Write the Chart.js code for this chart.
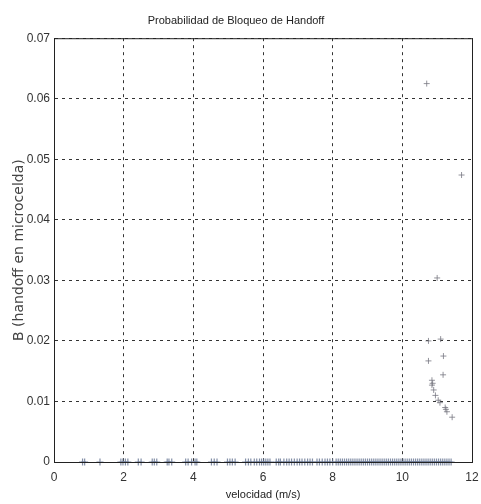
<!DOCTYPE html>
<html>
<head>
<meta charset="utf-8">
<script src="https://cdn.jsdelivr.net/npm/chart.js@4/dist/chart.umd.min.js"></script>
<style>
  html, body { margin: 0; padding: 0; background: #fff; }
  #wrap { width: 481px; height: 504px; }
</style>
</head>
<body>
<div id="wrap"><canvas id="grafico" width="481" height="504"></canvas></div>
<script>
// Datos
const velocidadCero = [
  0.82, 0.88, 1.32, 1.92, 1.98, 2.05, 2.12, 2.42, 2.5, 2.82, 2.88, 2.95,
  3.25, 3.3, 3.38, 3.78, 3.85, 3.95, 4.05, 4.1, 4.52, 4.6, 4.68, 4.98,
  5.05, 5.12, 5.2, 5.5, 5.58, 5.65, 5.75, 5.82, 5.9, 5.96, 6.02, 6.08,
  6.14, 6.2, 6.38, 6.45, 6.5, 6.6, 6.68, 6.75, 6.82, 6.9, 6.98, 7.05,
  7.12, 7.2, 7.28, 7.35, 7.42, 7.55, 7.62, 7.7, 7.78, 7.85, 7.92, 8.0,
  8.1, 8.16, 8.22, 8.28, 8.34, 8.4, 8.46, 8.52, 8.58, 8.64, 8.7, 8.76,
  8.82, 8.88, 8.94, 9.0, 9.06, 9.12, 9.18, 9.24, 9.3, 9.36, 9.42, 9.48,
  9.54, 9.6, 9.66, 9.72, 9.78, 9.84, 9.9, 9.96, 10.02, 10.08, 10.14, 10.2,
  10.26, 10.32, 10.38, 10.44, 10.5, 10.56, 10.62, 10.68, 10.74, 10.8, 10.86, 10.92,
  10.98, 11.04, 11.1, 11.16, 11.22, 11.28, 11.34, 11.4
];
const velocidadAlta = [10.7, 11.7, 11.0, 10.75, 11.1, 11.18, 10.75, 11.17, 10.85, 10.87, 10.85, 10.9, 10.95, 11.03, 11.08, 11.23, 11.25, 11.28, 11.43];
const bloqueoAlta = [0.0625, 0.0474, 0.0304, 0.0200, 0.0203, 0.0175, 0.0167, 0.0144, 0.0135, 0.0130, 0.0127, 0.0119, 0.0110, 0.0102, 0.0098, 0.0090, 0.0087, 0.0083, 0.0074];
const ticksX = [0, 2, 4, 6, 8, 10, 12];
const ticksY = [0, 0.01, 0.02, 0.03, 0.04, 0.05, 0.06, 0.07];

const puntosCero = velocidadCero.map(v => ({ x: v, y: 0 }));
const puntosAlta = velocidadAlta.map((v, i) => ({ x: v, y: bloqueoAlta[i] }));

// Marco completo alrededor del area del grafico
const marco = {
  id: 'marco',
  afterDraw(chart) {
    const a = chart.chartArea;
    const ctx = chart.ctx;
    ctx.save();
    ctx.strokeStyle = '#222';
    ctx.lineWidth = 1;
    ctx.setLineDash([]);
    ctx.strokeRect(a.left + 0.5, a.top + 0.5, a.right - a.left, a.bottom - a.top);
    ctx.restore();
  }
};

const fuente = "'Liberation Sans', Arial, sans-serif";

new Chart(document.getElementById('grafico').getContext('2d'), {
  type: 'scatter',
  data: {
    datasets: [
      {
        data: puntosCero,
        pointStyle: 'cross',
        pointRadius: 3.5,
        borderWidth: 1.2,
        borderColor: 'rgba(100, 115, 145, 0.8)',
        clip: false
      },
      {
        data: puntosAlta,
        pointStyle: 'cross',
        pointRadius: 3,
        borderWidth: 1,
        borderColor: 'rgba(120, 120, 130, 0.8)',
        clip: false
      }
    ]
  },
  options: {
    responsive: false,
    animation: false,
    layout: { padding: { top: 0, right: 9, left: 0, bottom: 0 } },
    plugins: {
      legend: { display: false },
      tooltip: { enabled: false },
      title: {
        display: true,
        text: 'Probabilidad de Bloqueo de Handoff',
        color: '#222',
        font: { family: fuente, size: 11, weight: 'normal' },
        padding: { top: 14, bottom: 11 }
      }
    },
    scales: {
      x: {
        type: 'linear',
        min: 0,
        max: 12,
        afterBuildTicks: s => { s.ticks = ticksX.map(v => ({ value: v })); },
        afterFit: s => { s.height = 42; s.paddingRight = 0; s.paddingLeft = 0; },
        grid: { color: '#333', drawTicks: false, lineWidth: 1 },
        border: { display: true, color: '#222', dash: [3, 4] },
        ticks: {
          color: '#333',
          padding: 8,
          font: { family: fuente, size: 12 },
          callback: v => String(v)
        },
        title: {
          display: true,
          text: 'velocidad (m/s)',
          color: '#222',
          font: { family: fuente, size: 11 },
          padding: { top: 0, bottom: 2 }
        }
      },
      y: {
        type: 'linear',
        min: 0,
        max: 0.07,
        afterBuildTicks: s => { s.ticks = ticksY.map(v => ({ value: v })); },
        afterFit: s => { s.width = 54; s.paddingTop = 0; s.paddingBottom = 0; },
        grid: { color: '#333', drawTicks: false, lineWidth: 1 },
        border: { display: true, color: '#222', dash: [3, 4] },
        ticks: {
          color: '#333',
          padding: 4,
          font: { family: fuente, size: 12 },
          callback: v => v === 0 ? '0' : v.toFixed(2)
        },
        title: {
          display: true,
          text: 'B (handoff en microcelda)',
          color: '#444',
          font: { family: "'DejaVu Sans', sans-serif", size: 14 },
          padding: { top: 11, bottom: 0 }
        }
      }
    }
  },
  plugins: [marco]
});
</script>
</body>
</html>
